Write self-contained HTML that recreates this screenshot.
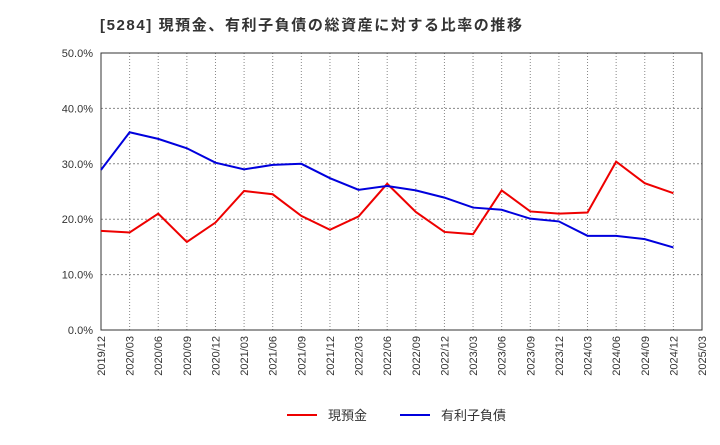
<!DOCTYPE html>
<html><head><meta charset="utf-8"><style>
body{margin:0;background:#fff;font-family:"Liberation Sans","Noto Sans CJK JP",sans-serif}
</style></head><body>
<svg width="720" height="440" xmlns="http://www.w3.org/2000/svg" id="chart">
<text x="100" y="30" font-size="15" font-weight="bold" fill="#333" textLength="422" lengthAdjust="spacing" font-family="Liberation Sans, Noto Sans CJK JP, sans-serif">[5284]  現預金、有利子負債の総資産に対する比率の推移</text>
<g id="grid"></g><g id="axes"></g><g id="series"></g>
<g>
<line x1="287" y1="415" x2="317" y2="415" stroke="#e00" stroke-width="2"/>
<text x="328" y="420" font-size="13" fill="#333" font-family="Liberation Sans, Noto Sans CJK JP, sans-serif">現預金</text>
<line x1="400" y1="415" x2="430" y2="415" stroke="#00d" stroke-width="2"/>
<text x="441" y="420" font-size="13" fill="#333" font-family="Liberation Sans, Noto Sans CJK JP, sans-serif">有利子負債</text>
</g>
</svg>
<script>
const categories=["2019/12","2020/03","2020/06","2020/09","2020/12","2021/03","2021/06","2021/09","2021/12","2022/03","2022/06","2022/09","2022/12","2023/03","2023/06","2023/09","2023/12","2024/03","2024/06","2024/09","2024/12","2025/03"];
const cash=[17.9,17.6,21.0,15.9,19.4,25.1,24.5,20.6,18.1,20.5,26.4,21.3,17.7,17.3,25.2,21.4,21.0,21.2,30.4,26.5,24.7];
const debt=[28.9,35.7,34.5,32.8,30.2,29.0,29.8,30.0,27.4,25.3,26.0,25.2,23.9,22.1,21.7,20.1,19.6,17.0,17.0,16.4,14.9];
const yTicks=[0,10,20,30,40,50];
const L=101,R=702,T=53,B=330;
const NS="http://www.w3.org/2000/svg";
const x=i=>L+(R-L)*i/(categories.length-1);
const y=v=>B-(B-T)*v/50;
function mk(t,a,p){const e=document.createElementNS(NS,t);for(const k in a)e.setAttribute(k,a[k]);p.appendChild(e);return e;}
const g=document.getElementById('grid'),ax=document.getElementById('axes'),s=document.getElementById('series');
categories.forEach((c,i)=>{
 const l=mk('line',{x1:x(i),x2:x(i),y1:T,y2:B,stroke:'#888','stroke-dasharray':'1,2','stroke-width':1},g);
 
 
 const t=mk('text',{x:0,y:0,'font-size':11,fill:'#333','text-anchor':'end',transform:`translate(${x(i)+4},${B+6}) rotate(-90)`},ax);
 t.textContent=c;
 
 
});
yTicks.forEach(v=>{
 const l=mk('line',{x1:L,x2:R,y1:y(v),y2:y(v),stroke:'#888','stroke-dasharray':'2,2','stroke-width':1},g);
 
 
 const t=mk('text',{x:L-8,y:y(v)+4,'font-size':11,fill:'#333','text-anchor':'end'},ax);
 t.textContent=v.toFixed(1)+'%';
 
 
});
const fr=mk('rect',{x:L,y:T,width:R-L,height:B-T,fill:'none',stroke:'#333','stroke-width':1},ax);


const p1=mk('polyline',{points:cash.map((v,i)=>x(i)+','+y(v)).join(' '),fill:'none',stroke:'#e00','stroke-width':2},s);


const p2=mk('polyline',{points:debt.map((v,i)=>x(i)+','+y(v)).join(' '),fill:'none',stroke:'#00d','stroke-width':2},s);


</script>
</body></html>
